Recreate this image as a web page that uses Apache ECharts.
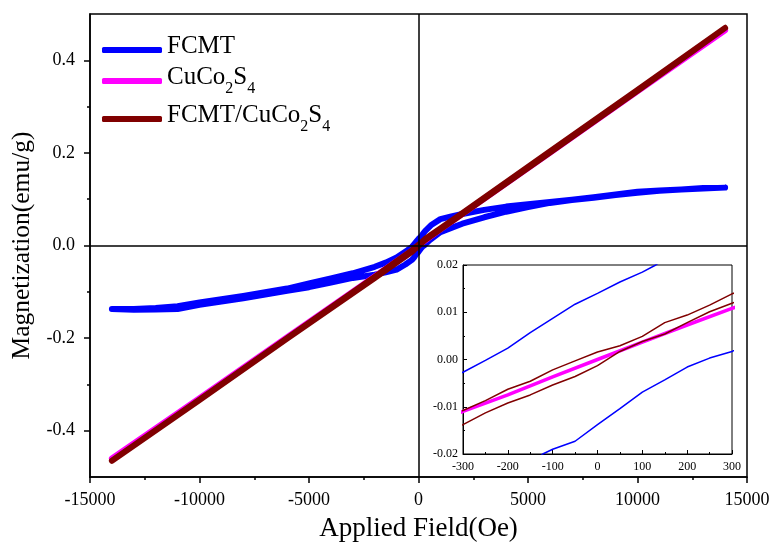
<!DOCTYPE html>
<html>
<head>
<meta charset="utf-8">
<script src="https://cdn.jsdelivr.net/npm/echarts@6/dist/echarts.min.js"></script>
<style>html,body{margin:0;padding:0;background:#fff;overflow:hidden}#c{width:771px;height:543px}</style>
</head>
<body>
<div id="c"></div>
<script>
// ---- Data (field in Oe, magnetization in emu/g) ----
var seriesNames = ['FCMT', 'CuCo2S4', 'FCMT/CuCo2S4'];

// FCMT: descending branch (+14000 -> -14000)
var fcmtDescH = [14000, 13000, 12000, 11000, 10000, 9000, 8000, 7000, 6000, 5000, 4000, 3000, 2000, 1500, 1000, 600, 300, 200, 130, 100, 50, 0, -50, -100, -150, -200, -250, -300, -500, -1000, -1500, -2000, -3000, -4000, -5000, -6000, -7000, -8000, -9000, -10000, -11000, -12000, -13000, -14000];
var fcmtDescM = [0.125, 0.124, 0.121, 0.119, 0.116, 0.110, 0.104, 0.099, 0.094, 0.089, 0.084, 0.077, 0.068, 0.063, 0.057, 0.045, 0.031, 0.025, 0.020, 0.0185, 0.0164, 0.014, 0.0117, 0.0087, 0.0057, 0.0024, -0.0002, -0.0027, -0.010, -0.026, -0.037, -0.046, -0.060, -0.071, -0.082, -0.093, -0.101, -0.109, -0.116, -0.123, -0.131, -0.135, -0.137, -0.137];
// FCMT: ascending branch (-14000 -> +14000)
var fcmtAscH = [-14000, -13000, -12000, -11000, -10000, -9000, -8000, -7000, -6000, -5000, -4000, -3000, -2000, -1500, -1000, -600, -300, -200, -122, -100, -50, 0, 50, 100, 150, 200, 250, 300, 500, 1000, 1500, 2000, 3000, 4000, 5000, 6000, 7000, 8000, 9000, 10000, 11000, 12000, 13000, 14000];
var fcmtAscM = [-0.137, -0.139, -0.138, -0.137, -0.128, -0.121, -0.114, -0.106, -0.098, -0.090, -0.080, -0.070, -0.063, -0.058, -0.052, -0.041, -0.031, -0.026, -0.020, -0.019, -0.0173, -0.0138, -0.0104, -0.0069, -0.0043, -0.0016, 0.0003, 0.0017, 0.011, 0.029, 0.038, 0.047, 0.061, 0.073, 0.083, 0.092, 0.098, 0.103, 0.109, 0.114, 0.118, 0.121, 0.123, 0.125];

// CuCo2S4 (nearly linear, no loop)
var cucoH = [-14000, -10000, -6000, -2000, -1000, -300, -200, -100, 0, 100, 200, 300, 1000, 2000, 6000, 10000, 14000];
var cucoM = [-0.460, -0.330, -0.198, -0.067, -0.034, -0.011, -0.0075, -0.0037, 0.0, 0.0037, 0.0073, 0.0108, 0.035, 0.068, 0.200, 0.333, 0.465];

// FCMT/CuCo2S4: descending and ascending branches
var compDescH = [14000, 10000, 6000, 2000, 1000, 300, 250, 200, 150, 100, 50, 0, -50, -100, -150, -200, -250, -300, -1000, -2000, -6000, -10000, -14000];
var compDescM = [0.470, 0.336, 0.203, 0.070, 0.037, 0.0139, 0.0115, 0.0094, 0.0078, 0.0049, 0.0029, 0.0016, -0.0003, -0.0022, -0.0046, -0.0063, -0.0087, -0.0108, -0.034, -0.068, -0.200, -0.333, -0.465];
var compAscH = [-14000, -10000, -6000, -2000, -1000, -300, -250, -200, -150, -100, -50, 0, 50, 100, 150, 200, 250, 300, 1000, 2000, 6000, 10000, 14000];
var compAscM = [-0.465, -0.334, -0.201, -0.070, -0.037, -0.0138, -0.0113, -0.0092, -0.0075, -0.0054, -0.0036, -0.0013, 0.0017, 0.0038, 0.0054, 0.0078, 0.0101, 0.0119, 0.035, 0.068, 0.201, 0.334, 0.470];

// Tick values
var yMajorTicks = [-0.4, -0.2, 0, 0.2, 0.4];
var yMinorTicks = [-0.3, -0.1, 0.1, 0.3];

function zip(h, m) { var out = []; for (var i = 0; i < h.length; i++) out.push([h[i], m[i]]); return out; }
var fcmtData = zip(fcmtDescH, fcmtDescM).concat(zip(fcmtAscH, fcmtAscM));
var cucoData = zip(cucoH, cucoM);
var compData = zip(compDescH, compDescM).concat(zip(compAscH, compAscM));

var FONT = '"Liberation Serif", "Times New Roman", serif';
var colors = ['#0000ff', '#ff00ff', '#800000'];

var chart = echarts.init(document.getElementById('c'), null, { renderer: 'canvas' });
var option = {
  animation: false,
  backgroundColor: '#ffffff',
  textStyle: { fontFamily: FONT, color: '#000' },
  legend: {
    data: seriesNames,
    orient: 'vertical',
    left: 97,
    top: 29,
    itemWidth: 60,
    itemHeight: 6,
    itemGap: 6,
    icon: 'roundRect',
    textStyle: {
      fontFamily: FONT, color: '#000', fontSize: 25,
      rich: {
        a: { fontFamily: FONT, fontSize: 25, color: '#000', padding: [0, 0, 7, 0], verticalAlign: 'bottom' },
        s: { fontFamily: FONT, fontSize: 16, color: '#000', verticalAlign: 'bottom' }
      }
    },
    formatter: function (n) {
      if (n === 'FCMT') return '{a|FCMT}';
      if (n === 'CuCo2S4') return '{a|CuCo}{s|2}{a|S}{s|4}';
      return '{a|FCMT/CuCo}{s|2}{a|S}{s|4}';
    }
  },
  grid: [
    { left: 90, top: 14, right: 24, bottom: 66, outerBoundsMode: 'none', containLabel: false,
      show: true, borderColor: '#000', borderWidth: 1.5, backgroundColor: 'transparent' },
    { left: 463, top: 265, width: 269, height: 189, outerBoundsMode: 'none', containLabel: false,
      show: true, borderColor: '#000', borderWidth: 1, backgroundColor: '#ffffff', z: 10 }
  ],
  xAxis: [
    {
      gridIndex: 0, type: 'value', min: -15000, max: 15000, interval: 5000,
      name: 'Applied Field(Oe)', nameLocation: 'middle', nameGap: 38,
      nameTextStyle: { fontFamily: FONT, fontSize: 27, color: '#000' },
      axisLine: { onZero: false, lineStyle: { color: '#000', width: 1.5 } },
      axisTick: { inside: false, length: 6, lineStyle: { color: '#000', width: 1.5 } },
      minorTick: { show: true, splitNumber: 2, length: 3, lineStyle: { color: '#000', width: 1.5 } },
      splitLine: { show: false },
      axisLabel: { fontFamily: FONT, fontSize: 18, color: '#000', margin: 14,
        formatter: function (v) { return String(v); } }
    },
    {
      gridIndex: 1, type: 'value', min: -300, max: 300, interval: 100,
      axisLine: { onZero: false, lineStyle: { color: '#000', width: 1 } },
      axisTick: { inside: true, length: 4, lineStyle: { color: '#000' } },
      minorTick: { show: true, splitNumber: 2, length: 2, lineStyle: { color: '#000' } },
      splitLine: { show: false },
      axisLabel: { fontFamily: FONT, fontSize: 12, color: '#000', margin: 7,
        formatter: function (v) { return String(v); } },
      z: 11
    }
  ],
  yAxis: [
    {
      gridIndex: 0, type: 'value', min: -0.5, max: 0.5,
      name: 'Magnetization(emu/g)', nameLocation: 'middle', nameGap: 52,
      nameTextStyle: { fontFamily: FONT, fontSize: 25.5, color: '#000' },
      axisLine: { onZero: false, lineStyle: { color: '#000', width: 1.5 } },
      axisTick: { inside: false, length: 6, customValues: yMajorTicks, lineStyle: { color: '#000', width: 1.5 } },
      splitLine: { show: false },
      axisLabel: { customValues: yMajorTicks, fontFamily: FONT, fontSize: 18, color: '#000', margin: 15,
        formatter: function (v) { return v.toFixed(1); } }
    },
    {
      gridIndex: 1, type: 'value', min: -0.02, max: 0.02, interval: 0.01,
      axisLine: { onZero: false, lineStyle: { color: '#000', width: 1 } },
      axisTick: { inside: true, length: 4, lineStyle: { color: '#000' } },
      minorTick: { show: true, splitNumber: 2, length: 2, lineStyle: { color: '#000' } },
      splitLine: { show: false },
      axisLabel: { fontFamily: FONT, fontSize: 12, color: '#000', margin: 5,
        formatter: function (v) { return v.toFixed(2); } },
      z: 11
    },
    {
      gridIndex: 0, type: 'value', min: -0.5, max: 0.5, position: 'left',
      axisLine: { show: false, onZero: false },
      axisTick: { inside: false, length: 3, customValues: yMinorTicks, lineStyle: { color: '#000', width: 1.5 } },
      splitLine: { show: false },
      axisLabel: { show: false }
    }
  ],
  series: [
    {
      name: 'FCMT', type: 'line', xAxisIndex: 0, yAxisIndex: 0, data: fcmtData,
      showSymbol: false, symbol: 'none', color: colors[0],
      lineStyle: { width: 6, color: colors[0], cap: 'round', join: 'round' },
      markLine: {
        silent: true, symbol: 'none', label: { show: false },
        lineStyle: { color: '#000', width: 1.5, type: 'solid' },
        data: [{ xAxis: 0 }, { yAxis: 0 }]
      },
      z: 2
    },
    {
      name: 'CuCo2S4', type: 'line', xAxisIndex: 0, yAxisIndex: 0, data: cucoData,
      showSymbol: false, symbol: 'none', color: colors[1],
      lineStyle: { width: 6, color: colors[1], cap: 'round', join: 'round' }, z: 3
    },
    {
      name: 'FCMT/CuCo2S4', type: 'line', xAxisIndex: 0, yAxisIndex: 0, data: compData,
      showSymbol: false, symbol: 'none', color: colors[2],
      lineStyle: { width: 6, color: colors[2], cap: 'round', join: 'round' }, z: 4
    },
    {
      name: 'FCMT inset', type: 'line', xAxisIndex: 1, yAxisIndex: 1, data: fcmtData,
      showSymbol: false, symbol: 'none', color: colors[0], clip: true,
      lineStyle: { width: 1.5, color: colors[0] },
      markLine: {
        silent: true, symbol: 'none', label: { show: false },
        lineStyle: { color: '#222', width: 1, type: 'solid' },
        data: [{ xAxis: 0 }, { yAxis: 0 }]
      },
      z: 12
    },
    {
      name: 'CuCo2S4 inset', type: 'line', xAxisIndex: 1, yAxisIndex: 1, data: cucoData,
      showSymbol: false, symbol: 'none', color: colors[1], clip: true,
      lineStyle: { width: 3.5, color: colors[1] }, z: 13
    },
    {
      name: 'FCMT/CuCo2S4 inset', type: 'line', xAxisIndex: 1, yAxisIndex: 1, data: compData,
      showSymbol: false, symbol: 'none', color: colors[2], clip: true,
      lineStyle: { width: 1.5, color: colors[2] }, z: 14
    }
  ]
};
chart.setOption(option);
</script>
</body>
</html>
